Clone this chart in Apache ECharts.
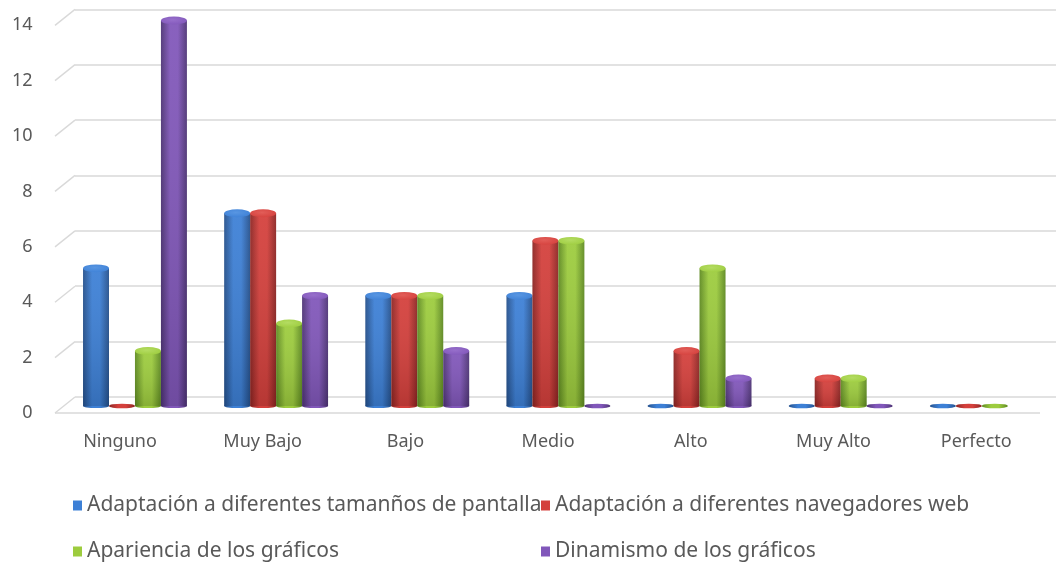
<!DOCTYPE html>
<html>
<head>
<meta charset="utf-8">
<script src="https://cdn.jsdelivr.net/npm/echarts@6/dist/echarts.min.js"></script>
<style>
  html, body { margin: 0; padding: 0; background: #fff; }
  #main { width: 1056px; height: 565px; }
</style>
</head>
<body>
<div id="main"></div>
<script>
// data
let categories = ['Ninguno', 'Muy Bajo', 'Bajo', 'Medio', 'Alto', 'Muy Alto', 'Perfecto']
let seriesNames = [
  'Adaptación a diferentes tamanños de pantalla',
  'Adaptación a diferentes navegadores web',
  'Apariencia de los gráficos',
  'Dinamismo de los gráficos'
]
let pantalla = [5, 7, 4, 4, 0, 0, 0]
let navegadores = [0, 7, 4, 6, 2, 1, 0]
let apariencia = [2, 3, 4, 6, 5, 1, 0]
let dinamismo = [14, 4, 2, 0, 1, 0, null]
let yTicks = [0, 2, 4, 6, 8, 10, 12, 14]

// colores: [borde oscuro, centro, tapa]
let palette = [
  ['#24508c', '#3d80d6', '#5896e2'],
  ['#8c2422', '#d4403c', '#e25d58'],
  ['#5e8a20', '#9dcc3e', '#b4dc62'],
  ['#4d3375', '#8157ba', '#976fcb']
]
let font = 'Noto Sans'
let textColor = '#595959'

let bodyFill = (c) => new echarts.graphic.LinearGradient(0, 0, 1, 0, [
  { offset: 0, color: c[0] },
  { offset: 0.35, color: c[1] },
  { offset: 0.65, color: c[1] },
  { offset: 1, color: c[0] }
])

// cilindro
let cylinder = (idx) => (params, api) => {
  let v = api.value(1)
  if (v == null || isNaN(v)) return
  let c = palette[idx]
  let band = api.size([1, 0])[0]
  let w = band * 0.184
  let base = api.coord([api.value(0), 0])
  let cx = base[0] + (idx - 1.5) * w
  let r = w / 2
  if (v === 0) {
    return {
      type: 'circle', x: cx, y: base[1], scaleY: 0.18,
      shape: { cx: 0, cy: 0, r: r },
      style: { fill: bodyFill(c) }
    }
  }
  let top = api.coord([api.value(0), v])
  let h = base[1] - top[1]
  return {
    type: 'group',
    children: [
      { type: 'circle', x: cx, y: base[1], scaleY: 0.16, shape: { cx: 0, cy: 0, r: r }, style: { fill: bodyFill(c) } },
      { type: 'rect', shape: { x: cx - r, y: top[1], width: w, height: h }, style: { fill: bodyFill(c) } },
      // sombra hacia abajo
      { type: 'rect', shape: { x: cx - r, y: top[1], width: w, height: h },
        style: { fill: new echarts.graphic.LinearGradient(0, 0, 0, 1, [
          { offset: 0, color: 'rgba(255,255,255,0.06)' }, { offset: 1, color: 'rgba(0,0,0,0.14)' }]) } },
      { type: 'circle', x: cx, y: top[1], scaleY: 0.3, shape: { cx: 0, cy: 0, r: r },
        style: { fill: new echarts.graphic.RadialGradient(0.45, 0.4, 0.7, [
          { offset: 0, color: c[2] }, { offset: 1, color: c[1] }]) } }
    ]
  }
}

// diagonales de la pared
let wallLines = (params, api) => {
  let p = api.coord([0, api.value(1)])
  let children = [{
    type: 'line',
    shape: { x1: p[0], y1: p[1], x2: p[0] - 20, y2: p[1] + 16 },
    style: { stroke: '#d9d9d9', lineWidth: 1.5 }
  }]
  if (api.value(1) === 0) {
    let cs = params.coordSys
    children.push({
      type: 'line',
      shape: { x1: p[0] - 20, y1: p[1] + 16, x2: cs.x + cs.width - 16, y2: p[1] + 16 },
      style: { stroke: '#d9d9d9', lineWidth: 1.5 }
    })
  }
  return { type: 'group', children: children }
}

let allData = [pantalla, navegadores, apariencia, dinamismo]
let series = allData.map((d, i) => ({
  type: 'custom',
  name: seriesNames[i],
  xAxisIndex: 0,
  yAxisIndex: 0,
  renderItem: cylinder(i),
  itemStyle: { color: palette[i][1] },
  data: d.map((v, k) => [k, v]),
  z: 5
}))
series.push({
  type: 'custom',
  xAxisIndex: 1,
  yAxisIndex: 1,
  renderItem: wallLines,
  data: yTicks.map(t => [0, t]),
  silent: true,
  z: 1
})

// leyenda: una por elemento, en dos columnas
let legendPos = [[73, 495], [541, 495], [73, 541], [541, 541]]
let legends = seriesNames.map((n, i) => ({
  data: [n],
  left: legendPos[i][0],
  top: legendPos[i][1],
  padding: 0,
  itemWidth: 9,
  itemHeight: 10,
  icon: 'rect',
  textStyle: { color: textColor, fontSize: 21, fontFamily: font }
}))

let myChart = echarts.init(document.getElementById('main'))
let option = {
  animation: false,
  textStyle: { fontFamily: font },
  grid: [
    { left: 64.4, right: 3.6, top: 20.5, bottom: 159 },   // barras
    { left: 75, right: 0, top: 9.3, bottom: 168 },        // pared del fondo
    { left: 48.6, right: 8.4, top: 25.3, bottom: 152 }    // etiquetas
  ],
  xAxis: [
    { gridIndex: 0, type: 'category', data: categories, show: false },
    { gridIndex: 1, type: 'value', min: 0, max: 1, show: false },
    {
      gridIndex: 2, type: 'category', data: categories,
      axisLine: { show: false }, axisTick: { show: false },
      axisLabel: { color: textColor, fontSize: 18, margin: 20, fontFamily: font }
    }
  ],
  yAxis: [
    { gridIndex: 0, type: 'value', min: 0, max: 14, show: false },
    {
      gridIndex: 1, type: 'value', min: 0, max: 14, interval: 2,
      axisLine: { show: false }, axisTick: { show: false }, axisLabel: { show: false },
      splitLine: { lineStyle: { color: '#d9d9d9', width: 1.5 } }
    },
    {
      gridIndex: 2, type: 'value', min: 0, max: 14, interval: 2,
      axisLine: { show: false }, axisTick: { show: false }, splitLine: { show: false },
      axisLabel: { color: textColor, fontSize: 18, margin: 16, fontFamily: font }
    }
  ],
  legend: legends,
  series: series
}
myChart.setOption(option)
</script>
</body>
</html>
